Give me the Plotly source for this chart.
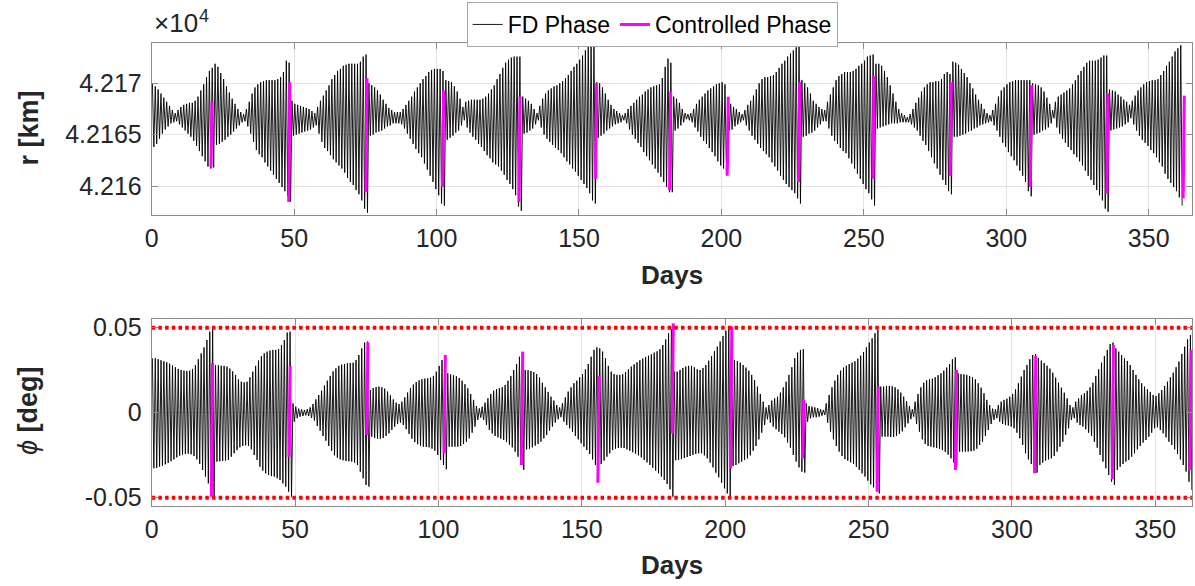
import plotly.graph_objects as go

# ---------------------------------------------------------------------------
# Orbit radius (top panel): daily maximum / minimum, km above R_REF_KM
# ---------------------------------------------------------------------------
R_REF_KM = 42160.0

r_hi = [
    10.0, 9.7, 9.4, 9.0, 8.6, 8.2, 7.8, 7.4, 7.1, 7.4,
    7.7, 7.9, 8.0, 8.1, 8.1, 8.3, 8.7, 9.3, 9.9, 10.6,
    11.2, 11.5, 11.9, 11.6, 11.0, 10.4, 9.7, 9.1, 8.5, 8.0,
    7.5, 7.2, 7.0, 7.5, 8.2, 9.0, 9.6, 9.9, 10.1, 10.2,
    10.3, 10.3, 10.3, 10.3, 10.4, 10.6, 11.1, 12.2, 12.0, 8.3,
    8.0, 7.9, 7.8, 7.7, 7.6, 7.5, 7.3, 7.1, 7.7, 8.3,
    8.8, 9.3, 9.8, 10.4, 10.8, 11.2, 11.4, 11.7, 11.8, 11.9,
    11.9, 11.9, 11.9, 12.1, 12.6, 12.8, 10.0, 9.8, 9.6, 9.3,
    8.9, 8.4, 8.0, 7.6, 7.4, 7.2, 7.2, 7.2, 7.5, 7.9,
    8.3, 8.7, 9.2, 9.6, 10.0, 10.4, 10.7, 11.1, 11.3, 11.4,
    11.4, 11.4, 11.2, 10.3, 10.2, 10.1, 9.7, 9.2, 8.5, 7.7,
    8.2, 8.3, 8.4, 8.4, 8.4, 8.4, 8.5, 8.7, 9.0, 9.4,
    9.8, 10.4, 10.9, 11.5, 12.0, 12.3, 12.5, 12.6, 12.6, 12.6,
    8.7, 8.5, 8.3, 8.0, 7.5, 7.1, 7.8, 8.5, 9.0, 9.3,
    9.5, 9.7, 9.8, 10.0, 10.2, 10.5, 10.8, 11.2, 11.6, 11.9,
    12.3, 12.7, 13.2, 13.6, 13.9, 13.8, 10.1, 10.0, 9.6, 9.0,
    8.4, 7.9, 7.5, 7.3, 7.1, 6.9, 7.1, 7.5, 7.8, 8.1,
    8.4, 8.7, 8.9, 9.2, 9.4, 9.6, 9.7, 9.8, 9.9, 10.5,
    11.6, 12.4, 12.0, 8.7, 8.5, 8.1, 7.5, 7.1, 7.0, 7.1,
    7.5, 8.0, 8.4, 8.7, 9.0, 9.3, 9.5, 9.7, 9.9, 10.0,
    10.1, 9.9, 8.1, 8.0, 7.7, 7.5, 7.2, 7.0, 7.4, 7.9,
    8.3, 8.8, 9.4, 10.0, 10.4, 10.6, 10.6, 10.7, 10.8, 11.1,
    11.5, 11.9, 12.2, 12.6, 12.9, 13.2, 13.5, 13.7, 10.3, 10.0,
    9.6, 9.0, 8.3, 8.0, 7.7, 7.5, 7.4, 8.2, 8.9, 9.6,
    10.3, 10.7, 10.9, 11.1, 11.1, 11.1, 11.2, 11.4, 11.7, 11.9,
    12.2, 12.6, 12.7, 12.8, 11.9, 11.9, 11.7, 11.2, 10.6, 9.8,
    9.0, 8.2, 7.5, 7.1, 6.9, 6.7, 7.0, 7.5, 8.1, 8.6,
    9.2, 9.6, 9.9, 10.1, 10.1, 10.2, 10.2, 10.4, 10.9, 11.1,
    10.9, 12.1, 12.0, 11.8, 11.4, 11.0, 10.6, 10.0, 9.5, 8.9,
    8.4, 8.0, 7.5, 7.1, 6.9, 7.4, 8.0, 8.7, 9.3, 9.6,
    9.9, 10.1, 10.2, 10.3, 10.3, 10.3, 10.3, 10.3, 10.3, 10.0,
    9.9, 9.8, 9.6, 9.2, 8.6, 8.0, 7.4, 8.2, 8.7, 8.9,
    9.1, 9.3, 9.5, 9.9, 10.3, 10.8, 11.2, 11.6, 12.0, 12.2,
    12.2, 12.2, 12.3, 12.5, 12.7, 12.7, 9.4, 9.3, 9.2, 8.9,
    8.7, 8.4, 8.2, 7.9, 8.3, 8.8, 9.3, 9.6, 9.9, 10.1,
    10.2, 10.3, 10.3, 10.4, 10.8, 11.2, 11.7, 12.1, 12.6, 13.1,
    13.4, 13.7,
]

r_lo = [
    3.8, 4.1, 4.6, 5.1, 5.5, 5.8, 6.1, 6.2, 6.3, 6.0,
    5.7, 5.4, 5.1, 4.8, 4.4, 3.9, 3.4, 2.9, 2.4, 1.9,
    1.7, 1.8, 4.0, 4.1, 4.3, 4.5, 4.8, 5.0, 5.3, 5.6,
    5.9, 6.2, 6.3, 5.8, 5.1, 4.3, 3.5, 3.1, 2.8, 2.3,
    1.9, 1.5, 1.1, 0.7, 0.3, -0.1, -0.5, -1.0, -1.5, 4.9,
    5.0, 5.1, 5.2, 5.3, 5.4, 5.5, 5.7, 5.9, 5.1, 4.3,
    3.7, 3.4, 3.0, 2.6, 2.3, 2.0, 1.7, 1.3, 0.8, 0.4,
    0.1, -0.4, -0.8, -1.4, -2.2, -2.6, 4.9, 5.0, 5.2, 5.3,
    5.4, 5.6, 5.8, 5.9, 6.1, 6.1, 6.1, 6.0, 5.6, 5.1,
    4.6, 4.1, 3.6, 3.2, 2.8, 2.2, 1.6, 1.0, 0.4, -0.3,
    -0.9, -1.7, -1.9, 4.5, 4.7, 4.9, 5.2, 5.4, 5.9, 6.4,
    5.7, 5.2, 4.8, 4.5, 4.1, 3.8, 3.4, 3.0, 2.7, 2.3,
    2.1, 1.9, 1.5, 1.1, 0.6, 0.2, -0.3, -0.9, -2.0, -2.4,
    5.1, 5.2, 5.4, 5.6, 6.0, 6.4, 5.7, 5.0, 4.6, 4.3,
    4.0, 3.7, 3.5, 3.2, 2.8, 2.4, 2.1, 1.7, 1.4, 1.0,
    0.6, 0.2, -0.2, -0.7, -1.4, -1.7, 4.7, 4.9, 5.1, 5.4,
    5.6, 5.8, 6.0, 6.1, 6.2, 6.4, 6.1, 5.5, 5.0, 4.6,
    4.2, 3.8, 3.3, 2.9, 2.5, 2.1, 1.7, 1.3, 0.9, 0.4,
    -0.1, -0.6, -0.6, 5.4, 5.6, 5.9, 6.2, 6.5, 6.4, 6.2,
    5.7, 5.3, 4.8, 4.4, 4.1, 3.7, 3.3, 2.9, 2.4, 2.0,
    1.7, 1.5, 5.4, 5.5, 5.8, 6.0, 6.2, 6.4, 5.9, 5.4,
    4.9, 4.5, 4.1, 3.7, 3.4, 3.1, 2.8, 2.3, 1.9, 1.5,
    1.0, 0.6, 0.2, -0.1, -0.4, -0.7, -1.2, -1.7, 4.8, 4.9,
    5.1, 5.2, 5.4, 5.7, 6.0, 6.3, 6.3, 5.6, 4.9, 4.4,
    4.1, 3.7, 3.4, 3.2, 2.7, 2.2, 1.7, 1.2, 0.7, 0.2,
    -0.3, -0.7, -1.3, -1.9, 5.6, 5.7, 5.8, 5.9, 6.0, 6.1,
    6.1, 6.1, 6.2, 6.2, 6.2, 6.2, 6.0, 5.7, 5.4, 4.9,
    4.4, 4.0, 3.4, 2.8, 2.2, 1.7, 1.1, 0.6, 0.1, -0.5,
    -0.8, 4.8, 4.8, 4.9, 5.0, 5.1, 5.3, 5.4, 5.6, 5.7,
    5.9, 6.0, 6.1, 6.2, 6.3, 5.9, 5.4, 4.8, 4.2, 3.8,
    3.3, 2.9, 2.5, 2.0, 1.5, 1.0, 0.4, -0.5, -1.0, 5.0,
    5.1, 5.2, 5.4, 5.5, 5.7, 6.1, 6.6, 5.7, 5.1, 4.6,
    4.2, 3.8, 3.5, 3.1, 2.8, 2.4, 2.0, 1.5, 1.0, 0.6,
    0.1, -0.4, -0.9, -1.4, -2.2, -2.5, 5.4, 5.5, 5.6, 5.7,
    5.8, 6.0, 6.2, 6.6, 6.0, 5.4, 4.9, 4.5, 4.2, 3.9,
    3.5, 3.2, 2.8, 2.3, 1.9, 1.2, 0.7, 0.3, -0.1, -0.5,
    -1.1, -1.9,
]

# Station-keeping burns: day of each burn and the radius (km above R_REF_KM)
# swept during the controlled arc
ctrl_day_r = [21.0, 48.3, 75.4, 102.3, 129.1, 156.0, 182.0, 202.2,
              227.3, 253.4, 280.5, 308.6, 335.5, 362.3]
r_ctrl_lo = [1.85, -1.56, -0.6, -0.1, -1.55, 0.7, -0.4, 1.0,
             0.4, 0.7, 1.0, -0.1, -0.75, -1.2]
r_ctrl_mid = [4.45, 4.3, 5.1, 5.3, 3.5, 8.2, 5.1, 2.8,
              7.9, 7.7, 8.0, 5.4, 4.5, 6.1]
r_ctrl_hi = [8.2, 10.1, 10.5, 9.3, 8.7, 10.0, 9.2, 8.7,
             10.1, 10.7, 10.1, 9.8, 9.0, 8.8]

# ---------------------------------------------------------------------------
# Longitude drift phi (bottom panel): daily maximum / minimum, millidegrees
# ---------------------------------------------------------------------------
phi_hi_mdeg = [
    32.0, 32.0, 31.4, 30.8, 30.2, 29.6, 28.8, 27.8, 26.7, 25.7,
    25.1, 24.7, 24.5, 24.7, 25.7, 28.0, 31.4, 34.9, 38.4, 42.7,
    47.6, 49.0, 28.0, 27.8, 27.6, 27.5, 27.1, 25.9, 24.3, 22.2,
    19.6, 18.2, 17.8, 18.2, 20.8, 24.1, 27.5, 30.6, 33.3, 34.9,
    35.9, 36.5, 36.9, 36.9, 37.3, 39.8, 42.7, 47.1, 47.6, 5.5,
    3.5, 2.4, 2.0, 1.6, 2.0, 3.1, 5.1, 7.8, 10.4, 12.9,
    15.9, 18.8, 21.6, 24.3, 26.1, 27.5, 28.2, 28.6, 29.0, 29.2,
    29.4, 31.0, 33.9, 37.8, 41.2, 41.8, 13.3, 14.5, 15.1, 15.3,
    14.9, 14.1, 12.4, 10.2, 7.8, 5.9, 5.1, 6.5, 9.0, 11.8,
    14.5, 16.5, 18.0, 19.0, 19.6, 20.0, 20.2, 20.6, 21.6, 24.1,
    27.5, 31.0, 33.3, 23.1, 22.5, 22.0, 21.4, 20.4, 18.8, 16.7,
    14.3, 11.0, 7.5, 3.9, 2.5, 3.5, 5.9, 8.4, 11.0, 12.9,
    13.9, 14.3, 14.9, 16.3, 18.8, 21.6, 25.1, 28.6, 32.9, 34.9,
    25.1, 24.9, 24.5, 23.9, 22.7, 20.6, 17.6, 14.9, 12.2, 9.4,
    7.1, 4.5, 3.1, 5.5, 9.0, 12.4, 14.9, 17.3, 18.8, 20.8,
    22.7, 25.5, 28.6, 32.9, 36.9, 38.4, 37.8, 35.9, 32.0, 27.5,
    24.1, 22.7, 22.2, 22.2, 22.7, 23.9, 25.5, 27.1, 28.4, 29.6,
    30.8, 31.8, 32.7, 33.5, 34.3, 35.3, 36.1, 37.3, 39.8, 43.1,
    46.7, 49.0, 24.1, 24.1, 25.1, 26.3, 27.1, 27.5, 27.5, 26.7,
    25.5, 25.1, 26.3, 28.0, 30.6, 33.3, 36.1, 38.8, 41.8, 45.1,
    48.2, 50.6, 31.4, 31.0, 30.4, 29.4, 28.0, 26.5, 24.7, 22.2,
    19.2, 15.3, 11.0, 6.5, 3.1, 4.5, 7.1, 8.4, 9.4, 11.8,
    14.9, 18.2, 22.2, 26.7, 32.0, 35.3, 36.9, 37.3, 5.5, 3.9,
    3.5, 3.1, 2.7, 2.0, 1.6, 5.5, 10.4, 14.9, 18.8, 22.2,
    24.7, 26.5, 27.6, 28.6, 29.4, 30.2, 31.8, 33.5, 35.7, 38.4,
    41.2, 43.7, 46.7, 48.6, 15.3, 15.3, 15.7, 15.7, 15.5, 14.9,
    13.7, 11.8, 9.4, 6.7, 3.9, 2.0, 6.5, 11.0, 14.9, 17.6,
    19.0, 19.6, 20.0, 20.8, 22.0, 23.1, 24.7, 26.5, 28.6, 31.4,
    32.5, 23.1, 22.7, 22.5, 22.2, 21.6, 20.8, 19.6, 17.3, 14.7,
    11.4, 7.5, 4.5, 2.4, 2.0, 4.5, 6.5, 7.5, 8.2, 9.4,
    11.0, 13.7, 17.3, 21.2, 25.1, 28.0, 31.4, 33.9, 34.5, 32.0,
    30.6, 29.2, 27.6, 25.9, 23.5, 20.6, 17.6, 14.7, 11.8, 8.4,
    4.5, 3.1, 6.5, 8.4, 10.4, 11.4, 12.9, 14.9, 17.6, 21.6,
    25.5, 29.4, 33.3, 36.9, 40.4, 41.2, 37.8, 35.9, 33.9, 32.0,
    30.4, 28.0, 25.1, 22.2, 19.6, 17.3, 15.3, 13.7, 12.2, 10.4,
    9.8, 11.4, 13.3, 15.7, 18.2, 20.8, 23.5, 26.7, 30.0, 34.5,
    38.8, 43.1, 45.7,
]

phi_lo_mdeg = [
    -32.7, -32.5, -31.8, -31.2, -30.4, -29.6, -28.6, -27.5, -26.3, -25.3,
    -24.7, -24.3, -24.1, -24.5, -25.5, -27.5, -30.2, -33.7, -37.6, -41.6,
    -46.5, -49.0, -28.8, -28.6, -28.4, -28.2, -27.8, -25.9, -23.9, -22.0,
    -20.4, -19.6, -19.2, -19.6, -21.6, -24.9, -27.8, -31.8, -34.1, -35.7,
    -36.7, -37.3, -37.6, -38.6, -39.6, -41.6, -43.5, -46.5, -49.4, -5.3,
    -3.3, -2.4, -2.0, -1.6, -2.0, -3.1, -4.7, -7.8, -10.6, -13.7,
    -16.5, -19.6, -22.4, -25.1, -26.5, -27.5, -28.0, -28.4, -28.6, -28.8,
    -29.4, -30.8, -34.7, -38.6, -42.5, -43.5, -14.1, -14.9, -15.3, -15.3,
    -14.9, -13.7, -12.2, -10.2, -8.2, -6.7, -5.9, -7.3, -9.8, -12.5,
    -15.3, -17.3, -18.6, -19.6, -20.0, -20.2, -20.4, -21.2, -22.4, -24.9,
    -27.8, -30.8, -33.3, -20.0, -20.0, -20.0, -20.0, -19.6, -18.4, -17.1,
    -15.1, -11.8, -8.2, -4.3, -2.9, -4.3, -7.3, -10.2, -12.2, -13.7,
    -14.5, -15.3, -16.1, -17.3, -18.8, -20.4, -22.9, -25.9, -30.8, -33.7,
    -21.6, -21.2, -20.4, -19.4, -18.4, -17.1, -15.1, -13.1, -10.6, -8.2,
    -5.9, -3.9, -2.7, -5.3, -7.3, -9.2, -11.2, -13.7, -15.7, -18.0,
    -20.0, -22.0, -24.3, -27.5, -30.8, -40.0, -30.2, -28.2, -25.9, -23.9,
    -22.0, -21.2, -20.8, -20.6, -20.8, -21.6, -22.4, -23.3, -24.1, -25.1,
    -26.3, -27.8, -29.2, -30.8, -32.4, -34.1, -35.7, -37.6, -39.6, -42.0,
    -45.1, -49.4, -28.0, -27.8, -27.3, -26.7, -26.1, -25.5, -24.9, -24.3,
    -23.9, -23.9, -25.1, -26.9, -29.4, -32.2, -35.3, -38.0, -41.2, -44.5,
    -47.5, -49.4, -31.4, -30.8, -29.8, -28.8, -27.8, -26.9, -25.1, -22.4,
    -19.6, -15.7, -11.8, -7.3, -3.9, -5.9, -8.2, -9.8, -11.2, -12.5,
    -14.5, -17.6, -20.6, -24.9, -28.8, -32.2, -34.7, -35.3, -5.3, -3.3,
    -2.7, -2.7, -2.4, -1.8, -1.4, -5.9, -11.2, -15.7, -19.6, -22.9,
    -25.5, -27.3, -28.2, -29.2, -30.2, -31.8, -33.7, -35.7, -37.6, -40.0,
    -42.2, -43.9, -45.5, -47.5, -14.1, -14.1, -14.1, -14.3, -14.3, -13.7,
    -12.5, -11.0, -8.6, -6.3, -3.9, -2.4, -6.7, -11.2, -15.7, -18.4,
    -19.6, -20.0, -20.4, -20.8, -21.4, -22.0, -23.1, -24.7, -26.9, -29.4,
    -30.8, -22.9, -22.9, -22.9, -22.9, -22.7, -22.4, -21.2, -19.0, -17.1,
    -13.7, -10.2, -6.7, -4.3, -3.3, -5.3, -6.7, -7.3, -7.6, -8.2,
    -9.2, -11.8, -15.1, -19.0, -23.9, -27.5, -30.2, -33.7, -35.3, -30.8,
    -29.4, -28.2, -27.5, -26.9, -25.5, -22.9, -20.0, -17.1, -13.1, -9.2,
    -4.3, -3.3, -5.9, -7.3, -8.2, -9.8, -11.8, -13.7, -17.1, -20.6,
    -24.9, -28.8, -32.7, -36.7, -40.6, -42.5, -33.7, -31.8, -30.2, -28.8,
    -27.8, -25.9, -23.9, -21.6, -19.6, -17.6, -16.1, -14.1, -11.8, -9.2,
    -8.6, -10.2, -12.2, -14.5, -17.1, -19.0, -21.6, -24.3, -27.5, -30.8,
    -34.7, -40.6, -45.5,
]

ctrl_day_phi = [21.0, 48.1, 75.2, 102.2, 129.2, 155.8, 181.7, 202.1,
                227.2, 253.2, 280.5, 308.1, 335.2, 362.3]
phi_ctrl_lo = [-49.4, -25.9, -13.1, -23.9, -30.8, -41.2, -12.2, -32.7,
               -26.9, -46.5, -33.7, -35.7, -39.2, -33.7]
phi_ctrl_mid = [10.4, 0.6, 25.1, 5.5, -1.4, -12.2, 20.0, 13.3,
                -10.2, -16.0, -4.3, -0.4, 0.6, -0.4]
phi_ctrl_hi = [29.0, 27.5, 41.4, 33.9, 35.9, 21.6, 52.5, 50.6,
               7.5, 15.3, 25.1, 33.3, 39.8, 36.9]

PHI_LIMIT_DEG = 0.05

# Axis ticks
day_ticks = [0, 50, 100, 150, 200, 250, 300, 350]
r_tick_vals = [42160, 42165, 42170]
r_tick_text = ["4.216", "4.2165", "4.217"]
phi_tick_vals = [-0.05, 0, 0.05]
phi_tick_text = ["-0.05", "0", "0.05"]


def daily_swing(values_hi, values_lo, ref, scale):
    """One max and one min per day, giving the diurnal oscillation."""
    xs, ys = [], []
    for d, (h, l) in enumerate(zip(values_hi, values_lo)):
        xs += [d + 0.25, d + 0.75]
        ys += [ref + h * scale, ref + l * scale]
    return xs, ys


def burn_arcs(days, lo, mid, hi, ref, scale):
    xs, ys = [], []
    for d, a, b, c in zip(days, lo, mid, hi):
        xs += [d - 0.2, d, d + 0.2, None]
        ys += [ref + a * scale, ref + b * scale, ref + c * scale, None]
    return xs, ys


FONT = "Liberation Sans, Arial, Helvetica, sans-serif"
TXT = "#262626"
AX = "#8c8c8c"
GRID = "#e3e3e3"
BLACK = "#000000"
MAGENTA = "#ff00ff"

W, H = 1195, 586
x_left, x_right = 151.7 / W, 1192.0 / W
top_dom = [(H - 215.0) / H, (H - 42.7) / H]
bot_dom = [(H - 506.0) / H, (H - 319.3) / H]

fig = go.Figure()

# Top panel: radius
xr, yr = daily_swing(r_hi, r_lo, R_REF_KM, 1.0)
fig.add_trace(go.Scatter(x=xr, y=yr, mode="lines", name="FD Phase",
                         line=dict(color=BLACK, width=0.9),
                         xaxis="x", yaxis="y", hoverinfo="skip"))
xc, yc = burn_arcs(ctrl_day_r, r_ctrl_lo, r_ctrl_mid, r_ctrl_hi, R_REF_KM, 1.0)
fig.add_trace(go.Scatter(x=xc, y=yc, mode="lines", name="Controlled Phase",
                         line=dict(color=MAGENTA, width=3),
                         xaxis="x", yaxis="y", hoverinfo="skip"))

# Bottom panel: longitude drift
xp, yp = daily_swing(phi_hi_mdeg, phi_lo_mdeg, 0.0, 1e-3)
fig.add_trace(go.Scatter(x=xp, y=yp, mode="lines", showlegend=False,
                         line=dict(color=BLACK, width=0.9),
                         xaxis="x2", yaxis="y2", hoverinfo="skip"))
xc2, yc2 = burn_arcs(ctrl_day_phi, phi_ctrl_lo, phi_ctrl_mid, phi_ctrl_hi, 0.0, 1e-3)
fig.add_trace(go.Scatter(x=xc2, y=yc2, mode="lines", showlegend=False,
                         line=dict(color=MAGENTA, width=3),
                         xaxis="x2", yaxis="y2", hoverinfo="skip"))

PHI_XMAX = 362.8
for lim in (PHI_LIMIT_DEG, -PHI_LIMIT_DEG):
    fig.add_trace(go.Scatter(x=[0, PHI_XMAX], y=[lim, lim], mode="lines",
                             showlegend=False,
                             line=dict(color="#ff0000", width=4, dash="3.5px,3.2px"),
                             xaxis="x2", yaxis="y2", hoverinfo="skip"))

common_x = dict(
    tickvals=day_ticks, ticktext=[str(v) for v in day_ticks],
    showgrid=True, gridcolor=GRID, gridwidth=1,
    showline=True, linecolor=AX, linewidth=1, mirror="ticks",
    ticks="inside", ticklen=6, tickcolor=AX,
    tickfont=dict(family=FONT, size=25, color=TXT),
    zeroline=False, automargin=False, ticklabelstandoff=1,
)
common_y = dict(
    showgrid=True, gridcolor=GRID, gridwidth=1,
    showline=True, linecolor=AX, linewidth=1, mirror="ticks",
    ticks="inside", ticklen=6, tickcolor=AX,
    tickfont=dict(family=FONT, size=25, color=TXT),
    zeroline=False, automargin=False, ticklabelstandoff=4,
)

fig.update_layout(
    width=W, height=H,
    margin=dict(l=0, r=0, t=0, b=0),
    paper_bgcolor="white", plot_bgcolor="white",
    font=dict(family=FONT, color=TXT),
    xaxis=dict(domain=[x_left, x_right], anchor="y", range=[0, 365.2], **common_x),
    yaxis=dict(domain=top_dom, anchor="x", range=[42157.18, 42173.95],
               tickvals=r_tick_vals, ticktext=r_tick_text, **common_y),
    xaxis2=dict(domain=[x_left, x_right], anchor="y2", range=[0, PHI_XMAX], **common_x),
    yaxis2=dict(domain=bot_dom, anchor="x2", range=[-0.0549, 0.0549],
                tickvals=phi_tick_vals, ticktext=phi_tick_text, **common_y),
    showlegend=True,
    legend=dict(
        orientation="h", x=466.7 / W, y=(H - 2.0) / H,
        xanchor="left", yanchor="top",
        bgcolor="white", bordercolor="#a6a6a6", borderwidth=1,
        font=dict(family=FONT, size=23, color="#000000"),
        itemwidth=30, tracegroupgap=0,
    ),
    annotations=[
        dict(text="×10", x=x_left, y=(H - 40.0) / H,
             xref="paper", yref="paper", xanchor="left", yanchor="bottom",
             showarrow=False, font=dict(family=FONT, size=26, color=TXT)),
        dict(text="4", x=197.5 / W, y=(H - 28.0) / H,
             xref="paper", yref="paper", xanchor="left", yanchor="bottom",
             showarrow=False, font=dict(family=FONT, size=18, color=TXT)),
        dict(text="<b>r [km]</b>", x=28.5 / W, y=(H - 128.0) / H,
             xref="paper", yref="paper", xanchor="center", yanchor="middle",
             textangle=-90, showarrow=False,
             font=dict(family=FONT, size=27, color=TXT)),
        dict(text="<i>ϕ</i> <b>[deg]</b>", x=28.0 / W, y=(H - 411.0) / H,
             xref="paper", yref="paper", xanchor="center", yanchor="middle",
             textangle=-90, showarrow=False,
             font=dict(family=FONT, size=27, color=TXT)),
        dict(text="<b>Days</b>", x=(x_left + x_right) / 2, y=(H - 275.0) / H,
             xref="paper", yref="paper", xanchor="center", yanchor="middle",
             showarrow=False, font=dict(family=FONT, size=26, color=TXT)),
        dict(text="<b>Days</b>", x=(x_left + x_right) / 2, y=(H - 565.0) / H,
             xref="paper", yref="paper", xanchor="center", yanchor="middle",
             showarrow=False, font=dict(family=FONT, size=26, color=TXT)),
    ],
)

fig.write_html("out.html", config={"displayModeBar": False})
